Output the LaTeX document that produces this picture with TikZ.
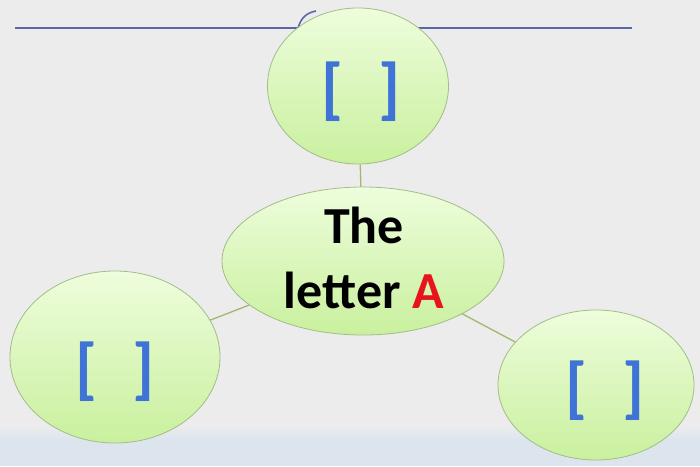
\documentclass[tikz,border=0pt]{standalone}
\usepackage{fontspec}
\setmainfont{Carlito}
\usetikzlibrary{shapes.geometric}
\definecolor{bgc}{HTML}{ECECEC}
\definecolor{strip}{HTML}{DCE5EE}
\definecolor{ellfillA}{HTML}{EEFDDC}
\definecolor{ellfillB}{HTML}{C9F09E}
\definecolor{ellline}{HTML}{A3BC88}
\definecolor{conn}{HTML}{A2B86A}
\definecolor{rulec}{HTML}{5A68A8}
\definecolor{brk}{HTML}{3F74D6}
\definecolor{redA}{HTML}{E8141B}
\tikzset{
  bubble/.style={ellipse, draw=ellline, line width=0.8pt, top color=ellfillA, bottom color=ellfillB, inner sep=0pt},
  conline/.style={draw=conn, line width=1.3pt},
  brackets/.style={font=\fontsize{68}{72}\selectfont\bfseries, text=brk}
}
\begin{document}
\begin{tikzpicture}[x=1pt,y=-1pt]
\useasboundingbox (0,0) rectangle (700,466);
\fill[bgc] (0,0) rectangle (700,466);
\shade[top color=bgc, bottom color=strip] (0,425) rectangle (700,440);
\fill[strip] (0,440) rectangle (700,466);
% blue rule
\coordinate (r1) at (15,28);
\coordinate (r2) at (632,28);
\draw[rulec, line width=1.2pt] (r1) -- (r2);
\draw[rulec, line width=1.6pt] (298,28) .. controls (301,18) and (306,13) .. (316,11);
% bubbles
\node[bubble, minimum width=181pt, minimum height=156pt] (top) at (358,86) {};
\node[bubble, minimum width=282pt, minimum height=148pt] (ctr) at (363,261) {};
\node[bubble, minimum width=210pt, minimum height=172pt] (lft) at (115,357) {};
\node[bubble, minimum width=196pt, minimum height=150pt] (rgt) at (596,385) {};
% connectors
\draw[conline] (top) -- (ctr);
\draw[conline] (ctr) -- (lft);
\draw[conline] (ctr) -- (rgt);
% texts
\node[brackets] (tb) at (361,92) {[\hspace{34pt}]};
\node[brackets] (lb) at (115,372) {[\hspace{34pt}]};
\node[brackets] (rb) at (605,391) {[\hspace{34pt}]};
\node[font=\fontsize{52}{65}\selectfont\bfseries, align=center, text=black] (txt) at (364,258) {The\\letter \textcolor{redA}{A}};
\end{tikzpicture}
\end{document}
